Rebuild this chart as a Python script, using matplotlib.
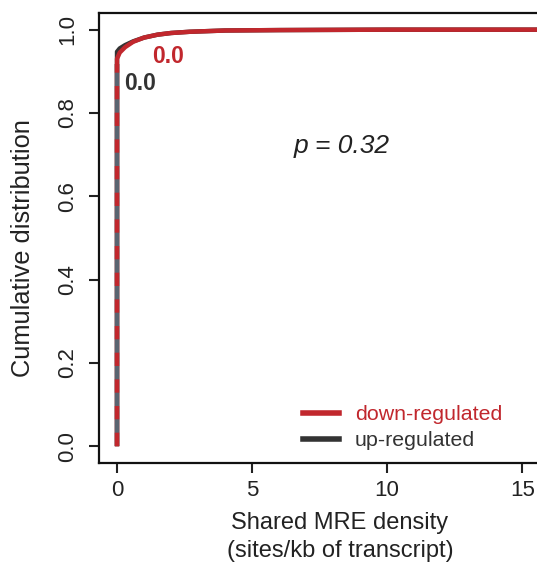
import matplotlib
matplotlib.use("Agg")
import matplotlib.pyplot as plt
from matplotlib.lines import Line2D

plt.rcParams['font.family'] = ['Liberation Sans', 'DejaVu Sans']

# ECDF values
down_x = [0, 0, 0.1, 0.3, 0.6, 1.0, 1.5, 2.0, 2.7, 4.0, 6.0, 10.0, 17.4]
down_y = [0.0, 0.930, 0.945, 0.958, 0.971, 0.981, 0.988, 0.992, 0.995, 0.998, 0.999, 1.0, 1.0]
up_x = [0, 0, 0.1, 0.3, 0.6, 1.0, 1.5, 2.0, 2.7, 4.0, 6.0, 10.0, 17.4]
up_y = [0.0, 0.947, 0.955, 0.963, 0.972, 0.981, 0.988, 0.992, 0.995, 0.998, 0.999, 1.0, 1.0]

x_ticks = [0, 5, 10, 15]
y_ticks = [0.0, 0.2, 0.4, 0.6, 0.8, 1.0]
series_names = ["down-regulated", "up-regulated"]
medians = ["0.0", "0.0"]
p_text = "p = 0.32"

red = "#C1272D"
dark = "#333333"
txt = "#222222"

fig = plt.figure(figsize=(5.37, 5.65), dpi=100)
ax = fig.add_axes([99/537, 102/565, 487/537, 450/565])

ax.plot(up_x, up_y, color=dark, lw=3.2, solid_capstyle='butt', zorder=2)
ax.plot(down_x, down_y, color=red, lw=3.2, solid_capstyle='butt', zorder=3)
# dashed red over grey on the vertical jump
ax.plot(up_x[:2], [up_y[0], 0.918], color="#5a6470", lw=3.2, zorder=4, solid_capstyle='butt')
ax.plot(down_x[:2], [down_y[0], 0.918], color=red, lw=3.2, zorder=5, dashes=(3.0, 3.0))

ax.set_xlim(-0.667, 17.36)
ax.set_ylim(-0.04, 1.04)
ax.set_xticks(x_ticks)
ax.set_xticklabels([str(t) for t in x_ticks])
ax.set_yticks(y_ticks)
ax.set_yticklabels([f"{t:.1f}" for t in y_ticks], rotation=90, va='center')
ax.tick_params(axis='both', direction='out', length=7, width=1.5, labelsize=16, colors=txt)
ax.tick_params(axis='y', pad=8)
ax.tick_params(axis='x', pad=5)
for s in ['left', 'bottom', 'top', 'right']:
    ax.spines[s].set_linewidth(1.6)
    ax.spines[s].set_color('#111111')

fig.text(23/537, 1 - 248/565, "Cumulative distribution", rotation=90, ha='center', va='center',
         fontsize=18.3, color=txt)
fig.text(340/537, 1 - 523/565, "Shared MRE density", ha='center', va='center', fontsize=17, color=txt)
fig.text(340/537, 1 - 551/565, "(sites/kb of transcript)", ha='center', va='center', fontsize=17, color=txt)

ax.text(1.89, 0.935, medians[0], color=red, fontsize=16.5, fontweight='bold', ha='center', va='center')
ax.text(0.85, 0.870, medians[1], color=dark, fontsize=16.5, fontweight='bold', ha='center', va='center')
ax.text(8.33, 0.721, p_text, fontsize=19, style='italic', color=txt, ha='center', va='center')

handles = [Line2D([], [], color=red, lw=4), Line2D([], [], color=dark, lw=4)]
leg = ax.legend(handles, series_names, loc='upper left', bbox_to_anchor=(303/537, 1 - 405/565),
                bbox_transform=fig.transFigure, borderaxespad=0, borderpad=0,
                frameon=False, fontsize=15.4, handlelength=1.68, handletextpad=0.75, labelspacing=0.33)
for t, c in zip(leg.get_texts(), [red, dark]):
    t.set_color(c)

fig.savefig("out.png", dpi=100)
